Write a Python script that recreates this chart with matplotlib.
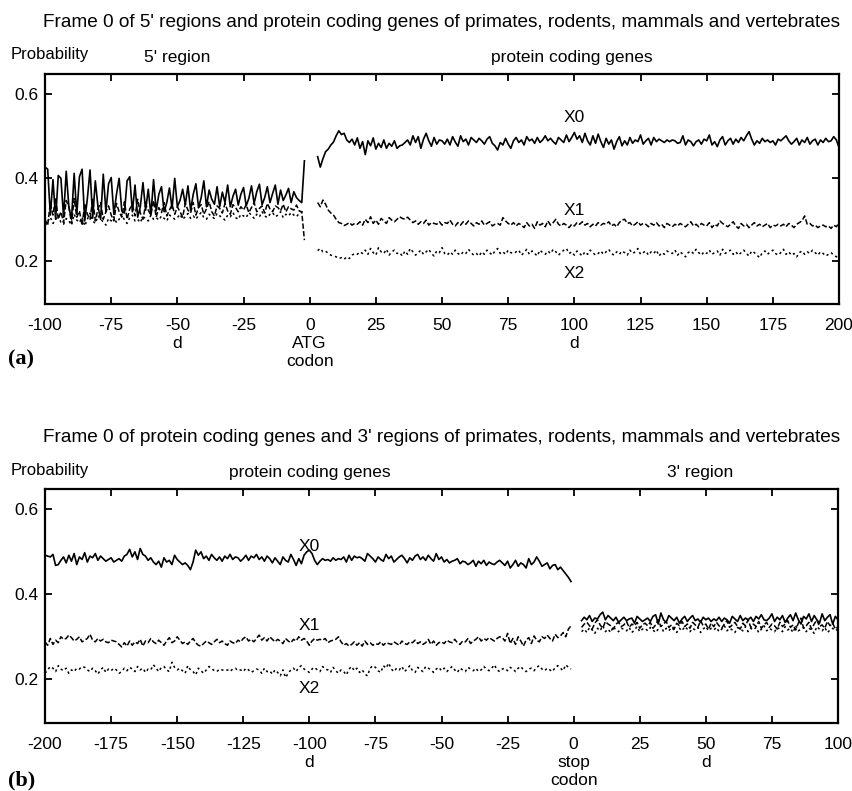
#!/usr/bin/env python3
"""Frame 0 probabilities X0, X1, X2 along 5'/coding/3' regions (two panels)."""

import matplotlib

matplotlib.use('Agg')

import matplotlib.pyplot as plt
import numpy as np

FAMILIA = ['Liberation Sans', 'DejaVu Sans']

# valores en milesimas de probabilidad, un valor por posicion d
# ---- panel (a): region 5' (d = -100 .. -2)
A_5P_INICIO = -100
A_5P_X0 = [
    425, 420, 310, 395, 300, 405, 398, 305, 415, 330, 300, 410, 312, 402, 420, 296, 350, 418, 303, 392, 330, 300, 408, 318, 385,
    400, 312, 360, 398, 320, 315, 392, 402, 318, 382, 305, 330, 388, 322, 372, 310, 395, 320, 360, 378, 318, 340, 375, 326, 398,
    330, 345, 372, 335, 380, 322, 360, 385, 328, 352, 392, 330, 370, 348, 336, 378, 330, 365, 340, 382, 330, 355, 372, 334, 360,
    376, 332, 350, 380, 338, 366, 384, 335, 352, 378, 340, 362, 382, 336, 370, 345, 358, 374, 340, 366, 352, 345, 340, 440,
]
A_5P_X1 = [
    300, 285, 340, 310, 352, 300, 318, 292, 345, 330, 290, 350, 305, 320, 285, 338, 312, 300, 348, 296, 325, 340, 300, 318, 332,
    310, 296, 338, 318, 305, 342, 300, 325, 335, 308, 348, 315, 300, 335, 322, 310, 345, 305, 328, 316, 340, 308, 322, 335, 312,
    330, 318, 305, 338, 322, 315, 340, 310, 328, 335, 312, 325, 342, 318, 308, 332, 326, 315, 338, 320, 312, 335, 328, 318, 330,
    322, 335, 316, 328, 340, 318, 326, 332, 315, 338, 325, 318, 332, 328, 320, 336, 318, 330, 325, 322, 334, 320, 318, 250,
]
A_5P_X2 = [
    285, 295, 305, 290, 300, 310, 292, 288, 302, 296, 286, 312, 298, 292, 305, 284, 300, 315, 296, 290, 308, 300, 294, 286, 302,
    296, 306, 292, 300, 312, 298, 290, 304, 310, 296, 300, 292, 306, 302, 296, 310, 300, 304, 298, 308, 302, 296, 310, 306, 300,
    304, 312, 300, 306, 314, 302, 308, 300, 310, 316, 304, 300, 312, 306, 302, 314, 308, 304, 298, 310, 306, 316, 304, 300, 312,
    308, 304, 316, 310, 302, 312, 306, 318, 308, 304, 312, 316, 306, 310, 318, 304, 312, 308, 316, 310, 306, 314, 318, 312,
]
# ---- panel (a): genes codificantes (d = 3 .. 200)
A_COD_INICIO = 3
A_COD_X0 = [
    450, 425, 445, 462, 468, 478, 485, 500, 512, 503, 506, 490, 484, 492, 478, 495, 470, 486, 455, 488, 476, 495, 468, 482, 472,
    490, 470, 482, 475, 488, 470, 476, 478, 484, 490, 478, 500, 484, 498, 470, 492, 506, 488, 475, 496, 480, 490, 488, 480, 492,
    478, 498, 485, 475, 500, 486, 492, 478, 496, 490, 484, 494, 488, 480, 492, 498, 482, 476, 466, 484, 478, 494, 480, 470, 488,
    496, 484, 490, 478, 498, 488, 492, 482, 496, 484, 490, 500, 488, 494, 486, 480, 496, 490, 484, 502, 486, 496, 508, 492, 500,
    484, 506, 488, 478, 500, 482, 504, 486, 472, 494, 480, 490, 468, 486, 498, 476, 488, 478, 496, 482, 490, 486, 502, 480, 488,
    494, 478, 496, 486, 492, 488, 484, 490, 486, 490, 488, 482, 484, 500, 478, 490, 486, 476, 486, 490, 480, 492, 488, 502, 478,
    486, 474, 490, 498, 478, 488, 494, 480, 492, 484, 496, 488, 500, 510, 492, 478, 488, 482, 494, 486, 490, 484, 488, 478, 492,
    488, 494, 500, 488, 480, 486, 494, 478, 490, 484, 496, 480, 488, 492, 478, 490, 484, 494, 486, 488, 498, 490, 472,
]
A_COD_X1 = [
    340, 330, 346, 336, 322, 315, 310, 300, 292, 290, 285, 288, 292, 286, 290, 288, 294, 286, 300, 292, 306, 290, 298, 288, 302,
    296, 290, 304, 298, 294, 300, 306, 302, 300, 305, 298, 292, 296, 288, 294, 290, 298, 286, 292, 290, 288, 294, 286, 292, 290,
    298, 288, 284, 292, 286, 294, 288, 296, 290, 284, 292, 288, 296, 286, 290, 294, 284, 288, 290, 286, 304, 296, 290, 286, 292,
    284, 290, 286, 280, 292, 284, 288, 278, 294, 286, 290, 282, 296, 286, 292, 300, 288, 284, 290, 286, 280, 288, 284, 292, 288,
    294, 286, 290, 282, 288, 284, 292, 286, 290, 288, 294, 284, 288, 282, 292, 298, 300, 290, 292, 284, 288, 294, 286, 290, 288,
    282, 290, 286, 292, 284, 288, 280, 290, 286, 282, 288, 284, 290, 286, 282, 288, 294, 284, 288, 282, 290, 286, 284, 292, 280,
    288, 284, 296, 290, 286, 282, 288, 294, 284, 278, 290, 284, 288, 280, 286, 292, 284, 288, 282, 286, 290, 280, 286, 284, 288,
    284, 288, 282, 290, 286, 280, 288, 292, 296, 308, 288, 290, 284, 286, 280, 284, 286, 282, 284, 278, 286, 282, 292,
]
A_COD_X2 = [
    225, 230, 222, 224, 218, 214, 212, 210, 206, 208, 204, 210, 206, 214, 218, 216, 222, 218, 226, 216, 230, 220, 214, 232, 222,
    218, 228, 214, 222, 226, 218, 220, 212, 224, 216, 230, 222, 214, 220, 226, 216, 222, 228, 218, 212, 224, 220, 232, 218, 214,
    222, 216, 226, 218, 214, 222, 218, 228, 220, 214, 218, 212, 222, 216, 226, 220, 214, 224, 230, 218, 222, 216, 226, 220, 218,
    222, 226, 214, 220, 228, 216, 224, 218, 212, 226, 220, 216, 224, 218, 228, 222, 214, 220, 226, 230, 218, 222, 214, 224, 218,
    212, 222, 216, 226, 220, 214, 218, 224, 216, 222, 228, 218, 214, 222, 216, 224, 220, 214, 226, 218, 222, 230, 216, 220, 224,
    214, 222, 218, 226, 212, 220, 216, 224, 220, 218, 226, 214, 222, 216, 210, 220, 224, 218, 228, 220, 214, 222, 218, 226, 216,
    220, 224, 214, 228, 218, 222, 226, 216, 222, 214, 220, 226, 218, 212, 224, 220, 214, 208, 220, 224, 216, 222, 226, 218, 214,
    220, 228, 216, 222, 214, 218, 210, 220, 224, 216, 222, 218, 226, 220, 214, 222, 218, 212, 216, 220, 214, 210, 216,
]

# ---- panel (b): genes codificantes (d = -200 .. -1)
B_COD_INICIO = -200
B_COD_X0 = [
    492, 490, 488, 494, 468, 470, 480, 488, 474, 492, 478, 496, 470, 488, 482, 498, 476, 490, 486, 496, 480, 490, 484, 478, 482,
    486, 476, 480, 484, 478, 490, 494, 506, 488, 500, 482, 508, 494, 490, 480, 486, 476, 470, 478, 464, 486, 476, 480, 470, 492,
    482, 476, 470, 474, 468, 458, 476, 504, 492, 500, 484, 490, 480, 494, 486, 480, 488, 478, 490, 484, 494, 482, 488, 486, 478,
    484, 492, 480, 490, 486, 494, 482, 488, 478, 490, 484, 474, 486, 478, 470, 488, 480, 476, 494, 482, 468, 484, 472, 492, 500,
    504, 496, 480, 470, 478, 484, 480, 482, 478, 486, 480, 484, 482, 488, 476, 492, 480, 490, 486, 488, 484, 478, 496, 490, 484,
    476, 488, 482, 478, 494, 484, 490, 476, 482, 488, 492, 484, 474, 486, 480, 490, 494, 482, 488, 480, 492, 484, 478, 496, 482,
    488, 476, 482, 474, 478, 480, 484, 472, 478, 476, 470, 474, 480, 466, 478, 472, 480, 468, 476, 472, 470, 476, 480, 474, 468,
    478, 462, 470, 480, 466, 474, 470, 462, 484, 470, 476, 488, 478, 466, 470, 474, 460, 468, 470, 458, 464, 456, 448, 440, 430,
]
B_COD_X1 = [
    288, 280, 296, 282, 292, 286, 300, 294, 296, 304, 298, 290, 294, 300, 288, 292, 296, 306, 292, 288, 296, 290, 294, 288, 286,
    292, 290, 288, 282, 276, 286, 278, 290, 280, 288, 284, 294, 278, 290, 286, 296, 288, 284, 292, 286, 280, 290, 298, 286, 290,
    300, 292, 284, 288, 282, 290, 296, 286, 280, 278, 284, 290, 286, 282, 288, 294, 286, 290, 284, 280, 290, 286, 284, 292, 288,
    296, 300, 290, 294, 288, 296, 304, 292, 298, 290, 300, 294, 288, 294, 290, 284, 296, 290, 286, 294, 290, 300, 292, 296, 290,
    280, 290, 296, 292, 294, 292, 296, 286, 290, 292, 294, 300, 288, 280, 284, 278, 282, 288, 280, 286, 278, 290, 282, 286, 280,
    284, 282, 288, 280, 286, 284, 282, 288, 284, 280, 290, 284, 282, 288, 286, 292, 284, 288, 282, 286, 294, 282, 290, 280, 286,
    288, 284, 292, 288, 286, 294, 286, 282, 290, 288, 296, 284, 290, 294, 300, 290, 296, 292, 298, 294, 290, 296, 300, 298, 290,
    308, 284, 296, 282, 300, 290, 278, 292, 298, 284, 302, 292, 288, 300, 296, 304, 296, 290, 306, 298, 302, 310, 300, 318, 326,
]
B_COD_X2 = [
    214, 222, 230, 226, 218, 232, 224, 220, 226, 214, 222, 218, 226, 224, 230, 228, 222, 218, 226, 220, 212, 222, 228, 216, 224,
    220, 226, 222, 214, 218, 226, 220, 228, 224, 218, 230, 222, 226, 216, 224, 222, 234, 226, 218, 228, 230, 222, 218, 240, 228,
    222, 226, 220, 214, 232, 222, 218, 210, 226, 220, 214, 222, 230, 226, 220, 218, 224, 222, 220, 222, 218, 224, 226, 220, 222,
    218, 226, 222, 216, 220, 224, 222, 214, 226, 218, 220, 212, 222, 216, 208, 222, 204, 214, 222, 226, 218, 228, 232, 224, 220,
    216, 224, 228, 222, 218, 230, 224, 222, 216, 228, 220, 214, 222, 218, 210, 224, 230, 220, 226, 216, 222, 212, 208, 226, 232,
    228, 220, 216, 232, 226, 238, 224, 218, 226, 222, 230, 218, 224, 232, 220, 216, 228, 222, 218, 230, 226, 222, 216, 224, 228,
    220, 226, 218, 224, 230, 222, 216, 226, 222, 218, 228, 224, 220, 226, 218, 222, 230, 224, 220, 226, 234, 222, 218, 224, 226,
    220, 228, 224, 218, 226, 230, 222, 218, 224, 226, 220, 228, 232, 224, 220, 226, 222, 218, 228, 232, 226, 220, 234, 228, 224,
]
# ---- panel (b): region 3' (d = 3 .. 100)
B_3P_INICIO = 3
B_3P_X0 = [
    338, 346, 340, 350, 336, 344, 342, 352, 358, 340, 350, 344, 338, 346, 334, 340, 346, 338, 342, 344, 332, 348, 342, 336, 340,
    344, 336, 348, 352, 330, 356, 340, 334, 350, 344, 338, 346, 332, 342, 348, 336, 344, 350, 338, 342, 334, 346, 340, 344, 336,
    342, 338, 346, 336, 344, 340, 332, 348, 342, 336, 350, 338, 344, 340, 346, 336, 348, 342, 352, 340, 338, 344, 354, 336, 346,
    340, 350, 334, 344, 352, 338, 356, 340, 330, 348, 342, 354, 336, 350, 340, 332, 354, 338, 346, 352, 330, 348, 340,
]
B_3P_X1 = [
    322, 330, 334, 326, 318, 332, 340, 328, 320, 336, 330, 326, 318, 330, 334, 324, 328, 336, 322, 330, 326, 334, 320, 328, 332,
    326, 334, 320, 328, 340, 324, 330, 336, 322, 328, 318, 332, 326, 336, 324, 330, 320, 334, 328, 322, 338, 326, 330, 318, 332,
    324, 334, 326, 320, 330, 338, 322, 328, 334, 324, 318, 332, 326, 340, 322, 330, 324, 336, 320, 328, 334, 322, 330, 326, 318,
    334, 324, 330, 338, 322, 328, 316, 332, 344, 320, 326, 334, 318, 330, 340, 324, 328, 320, 336, 326, 332, 318, 324,
]
B_3P_X2 = [
    312, 318, 310, 322, 316, 308, 320, 314, 326, 312, 318, 310, 324, 316, 312, 320, 318, 314, 322, 310, 316, 324, 312, 318, 320,
    314, 322, 316, 310, 318, 326, 312, 320, 314, 322, 316, 310, 320, 314, 324, 318, 312, 320, 316, 322, 310, 318, 324, 314, 320,
    316, 322, 312, 318, 326, 314, 320, 316, 310, 322, 318, 314, 324, 312, 320, 316, 322, 310, 318, 326, 314, 320, 316, 312, 322,
    318, 312, 324, 316, 320, 310, 326, 314, 318, 322, 312, 320, 316, 308, 324, 318, 314, 322, 310, 316, 320, 314, 318,
]

A_TICKS = list(range(-100, 201, 25))
A_TICK_LABELS = ['-100', '-75', '-50\nd', '-25', '0\nATG\ncodon', '25', '50', '75',
                 '100\nd', '125', '150', '175', '200']
B_TICKS = list(range(-200, 101, 25))
B_TICK_LABELS = ['-200', '-175', '-150', '-125', '-100\nd', '-75', '-50', '-25',
                 '0\nstop\ncodon', '25', '50\nd', '75', '100']
Y_TICKS = [0.2, 0.4, 0.6]

ESTILOS = {
    'X0': dict(color='black', linewidth=1.2, linestyle='-'),
    'X1': dict(color='black', linewidth=1.1, linestyle=(0, (3.5, 1.5))),
    'X2': dict(color='black', linewidth=1.1, linestyle=(0, (1.5, 2.0))),
}


def _serie(ax, inicio, valores, nombre):
    v = np.asarray(valores, dtype=float) / 1000.0
    d = np.arange(inicio, inicio + len(v))
    ax.plot(d, v, **ESTILOS[nombre])


def _ejes(ax, xlim, ticks, labels):
    ax.set_xlim(*xlim)
    ax.set_ylim(0.097, 0.648)
    ax.set_xticks(ticks)
    ax.set_xticklabels(labels, family=FAMILIA, fontsize=12.5, linespacing=1.25)
    ax.set_yticks(Y_TICKS)
    ax.set_yticklabels([f'{t:.1f}' for t in Y_TICKS], family=FAMILIA, fontsize=12.5)
    ax.tick_params(direction='in', length=5, width=1.3, top=True, right=True, pad=5)
    ax.tick_params(axis='x', pad=10)
    for s in ax.spines.values():
        s.set_linewidth(1.6)


def main():
    fig = plt.figure(figsize=(8.53, 7.91), dpi=100)
    kw = dict(family=FAMILIA, fontsize=12.5, ha='center', va='center')
    kw_tit = dict(family=FAMILIA, fontsize=13.7, ha='center', va='center')

    # ---------------- panel (a)
    ax = fig.add_axes([0.0528, 0.6157, 0.9308, 0.2907])
    _serie(ax, A_5P_INICIO, A_5P_X0, 'X0')
    _serie(ax, A_5P_INICIO, A_5P_X1, 'X1')
    _serie(ax, A_5P_INICIO, A_5P_X2, 'X2')
    _serie(ax, A_COD_INICIO, A_COD_X0, 'X0')
    _serie(ax, A_COD_INICIO, A_COD_X1, 'X1')
    _serie(ax, A_COD_INICIO, A_COD_X2, 'X2')
    _ejes(ax, (-100, 200), A_TICKS, A_TICK_LABELS)
    ax.text(100, 0.545, 'X0', **kw)
    ax.text(100, 0.322, 'X1', **kw)
    ax.text(100, 0.171, 'X2', **kw)
    ax.text(-50, 0.688, "5' region", **kw)
    ax.text(99, 0.688, 'protein coding genes', **kw)

    fig.text(0.518, 0.972, "Frame 0 of 5' regions and protein coding genes of primates, "
             "rodents, mammals and vertebrates", **kw_tit)
    fig.text(0.012, 0.9305, 'Probability', family=FAMILIA, fontsize=12, va='center')
    fig.text(0.009, 0.545, '(a)', family='Liberation Serif', fontweight='bold',
             fontsize=16, va='center')

    # ---------------- panel (b)
    ax = fig.add_axes([0.0528, 0.0860, 0.9296, 0.2958])
    _serie(ax, B_COD_INICIO, B_COD_X0, 'X0')
    _serie(ax, B_COD_INICIO, B_COD_X1, 'X1')
    _serie(ax, B_COD_INICIO, B_COD_X2, 'X2')
    _serie(ax, B_3P_INICIO, B_3P_X0, 'X0')
    _serie(ax, B_3P_INICIO, B_3P_X1, 'X1')
    _serie(ax, B_3P_INICIO, B_3P_X2, 'X2')
    _ejes(ax, (-200, 100), B_TICKS, B_TICK_LABELS)
    ax.text(-100, 0.513, 'X0', **kw)
    ax.text(-100, 0.326, 'X1', **kw)
    ax.text(-100, 0.179, 'X2', **kw)
    ax.text(-100, 0.688, 'protein coding genes', **kw)
    ax.text(48, 0.688, "3' region", **kw)

    fig.text(0.518, 0.4475, "Frame 0 of protein coding genes and 3' regions of primates, "
             "rodents, mammals and vertebrates", **kw_tit)
    fig.text(0.012, 0.4046, 'Probability', family=FAMILIA, fontsize=12, va='center')
    fig.text(0.009, 0.0135, '(b)', family='Liberation Serif', fontweight='bold',
             fontsize=16, va='center')

    fig.savefig('out.png', dpi=100)


if __name__ == '__main__':
    main()
